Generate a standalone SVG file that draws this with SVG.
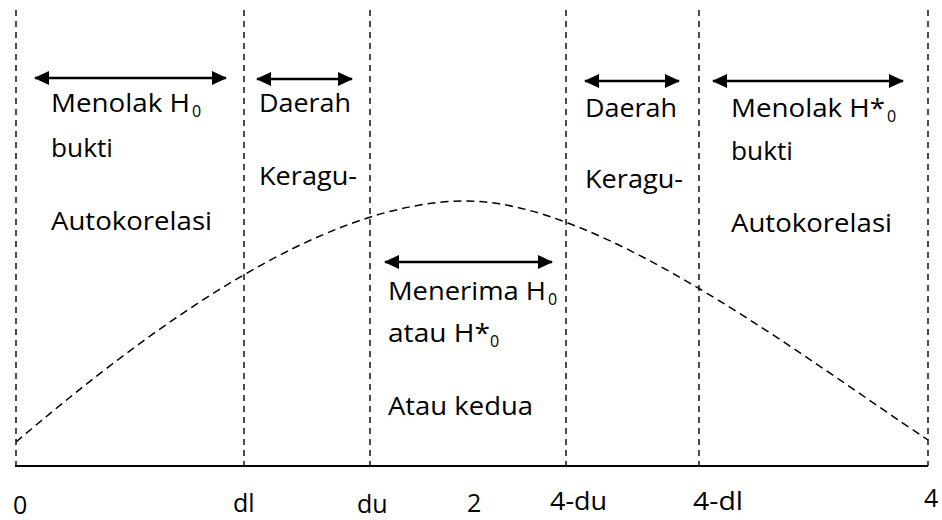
<svg xmlns="http://www.w3.org/2000/svg" width="942" height="520" viewBox="0 0 942 520">
  <style>
    .bg { fill: #ffffff; }
    .grid { stroke: #000; stroke-width: 1.4; stroke-dasharray: 6 5; fill: none; }
    .curve { stroke: #000; stroke-width: 1.5; stroke-dasharray: 8 5; fill: none; }
    .axis { stroke: #000; stroke-width: 2.2; fill: none; }
    .span { stroke: #000; stroke-width: 2.4; fill: none; marker-start: url(#head); marker-end: url(#head); }
    .t { font-family: "Open Sans", "Noto Sans", sans-serif; font-size: 25px; fill: #000; }
    .sub { font-family: "Open Sans", "Noto Sans", sans-serif; font-size: 16px; fill: #000; }
  </style>
  <defs>
    <marker id="head" markerUnits="userSpaceOnUse" markerWidth="15" markerHeight="14" viewBox="0 0 15 14" refX="14" refY="7" orient="auto-start-reverse">
      <path d="M0,0 L15,7 L0,14 z" fill="#000"/>
    </marker>
  </defs>

  <rect class="bg" x="0" y="0" width="942" height="520"/>

  <!-- critical-value boundaries -->
  <g id="boundaries">
    <line class="grid" x1="16" y1="10" x2="16" y2="466"/>
    <line class="grid" x1="244" y1="10" x2="244" y2="466"/>
    <line class="grid" x1="370" y1="10" x2="370" y2="466"/>
    <line class="grid" x1="566" y1="10" x2="566" y2="466"/>
    <line class="grid" x1="699" y1="10" x2="699" y2="466"/>
    <line class="grid" x1="928" y1="10" x2="928" y2="466"/>
  </g>

  <!-- distribution curve -->
  <path id="curve" class="curve" d="M16,442 C146,331.5 320,201 466,201 C600,201 800,355 928,440"/>

  <!-- horizontal axis -->
  <line id="axis" class="axis" x1="15" y1="466" x2="928" y2="466"/>

  <!-- region span arrows -->
  <g id="connectors">
    <line class="span" x1="35" y1="78" x2="226" y2="78"/>
    <line class="span" x1="257" y1="79" x2="352" y2="79"/>
    <line class="span" x1="385" y1="262" x2="552" y2="262"/>
    <line class="span" x1="585" y1="81" x2="679" y2="81"/>
    <line class="span" x1="713" y1="81" x2="903" y2="81"/>
  </g>

  <g id="reject-h0">
    <text class="t" x="51" y="112" textLength="139" lengthAdjust="spacingAndGlyphs">Menolak H</text>
    <text class="sub" x="192" y="117">0</text>
    <text class="t" x="51" y="157" textLength="62" lengthAdjust="spacingAndGlyphs">bukti</text>
    <text class="t" x="51" y="230" textLength="161" lengthAdjust="spacingAndGlyphs">Autokorelasi</text>
  </g>

  <g id="doubt-left">
    <text class="t" x="259" y="112" textLength="92" lengthAdjust="spacingAndGlyphs">Daerah</text>
    <text class="t" x="259" y="185" textLength="98" lengthAdjust="spacingAndGlyphs">Keragu-</text>
  </g>

  <g id="accept">
    <text class="t" x="388" y="300" textLength="158" lengthAdjust="spacingAndGlyphs">Menerima H</text>
    <text class="sub" x="548" y="305">0</text>
    <text class="t" x="388" y="342" textLength="102" lengthAdjust="spacingAndGlyphs">atau H*</text>
    <text class="sub" x="490" y="347">0</text>
    <text class="t" x="388" y="415" textLength="145" lengthAdjust="spacingAndGlyphs">Atau kedua</text>
  </g>

  <g id="doubt-right">
    <text class="t" x="585" y="117" textLength="92" lengthAdjust="spacingAndGlyphs">Daerah</text>
    <text class="t" x="585" y="188" textLength="98" lengthAdjust="spacingAndGlyphs">Keragu-</text>
  </g>

  <g id="reject-h0-star">
    <text class="t" x="731" y="117" textLength="154" lengthAdjust="spacingAndGlyphs">Menolak H*</text>
    <text class="sub" x="887" y="122">0</text>
    <text class="t" x="731" y="160" textLength="62" lengthAdjust="spacingAndGlyphs">bukti</text>
    <text class="t" x="731" y="232" textLength="161" lengthAdjust="spacingAndGlyphs">Autokorelasi</text>
  </g>

  <g id="ticks">
    <text class="t" x="13" y="514">0</text>
    <text class="t" x="233" y="512">dl</text>
    <text class="t" x="357" y="513">du</text>
    <text class="t" x="467" y="512">2</text>
    <text class="t" x="550" y="510" textLength="57" lengthAdjust="spacingAndGlyphs">4-du</text>
    <text class="t" x="693" y="510" textLength="50" lengthAdjust="spacingAndGlyphs">4-dl</text>
    <text class="t" x="924" y="507">4</text>
  </g>
</svg>
